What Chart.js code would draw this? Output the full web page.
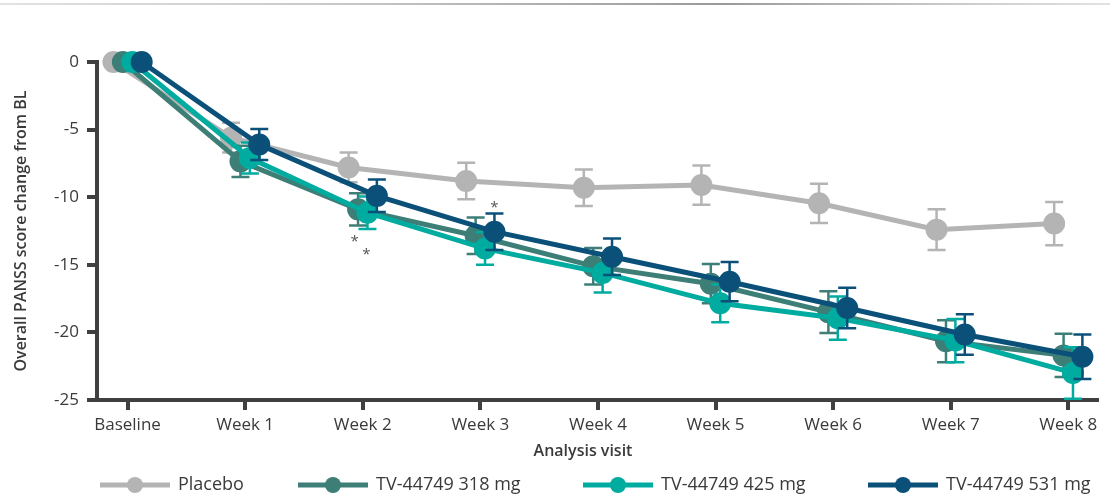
<!DOCTYPE html>
<html>
<head>
<meta charset="utf-8">
<script src="https://cdn.jsdelivr.net/npm/chart.js@4"></script>
<style>
  html, body { margin: 0; padding: 0; background: #fff; }
  #wrap { position: relative; width: 1110px; height: 495px; }
  #topline { position: absolute; left: 0; top: 3px; width: 1110px; height: 2px;
    background: linear-gradient(to right, #e2e2e2, #c8c8c8 30%, #9a9a9a 65%, #c8c8c8 85%, #e2e2e2); }
  canvas { position: absolute; left: 0; top: 0; }
</style>
</head>
<body>
<div id="wrap">
  <div id="topline"></div>
  <canvas id="chart" width="1110" height="495"></canvas>
</div>
<script>
// categories on the x axis
const visits = ['Baseline', 'Week 1', 'Week 2', 'Week 3', 'Week 4', 'Week 5', 'Week 6', 'Week 7', 'Week 8'];
const yTicks = [0, -5, -10, -15, -20, -25];

// mean change from baseline
const placebo = [0, -5.6, -7.8, -8.8, -9.3, -9.1, -10.45, -12.4, -11.95];
const dose318 = [0, -7.35, -10.9, -12.85, -15.1, -16.4, -18.5, -20.65, -21.7];
const dose425 = [0, -7.1, -11.15, -13.8, -15.6, -17.85, -18.95, -20.6, -23.0];
const dose531 = [0, -6.1, -9.9, -12.55, -14.4, -16.25, -18.2, -20.15, -21.8];

// standard errors (half height of the bars)
const placeboErr = [0, 1.1, 1.1, 1.35, 1.35, 1.45, 1.45, 1.5, 1.6];
const dose318Err = [0, 1.15, 1.2, 1.35, 1.35, 1.45, 1.55, 1.55, 1.6];
const dose425Err = [0, 1.15, 1.2, 1.2, 1.45, 1.4, 1.6, 1.6, 1.9];
const dose531Err = [0, 1.15, 1.2, 1.35, 1.35, 1.45, 1.5, 1.5, 1.65];

// significance markers: [visit position, y value]
const stars = [[1.93, -13.05], [2.03, -14.0], [3.12, -10.55]];

const seriesNames = ['Placebo', 'TV-44749 318 mg', 'TV-44749 425 mg', 'TV-44749 531 mg'];

const axisColor = '#404040';
const textColor = '#3a3a3a';
const font = 'Open Sans';

function pts(vals, shift) {
  return vals.map((v, i) => ({ x: i + shift, y: v }));
}

function makeSet(label, vals, err, color, shift, order) {
  return {
    label: label,
    data: pts(vals, shift),
    err: err,
    borderColor: color,
    backgroundColor: color,
    pointBackgroundColor: color,
    pointBorderColor: color,
    borderWidth: 5,
    pointRadius: 8.5,
    pointHoverRadius: 8.5,
    tension: 0,
    clip: false,
    order: order
  };
}

const errorBars = {
  id: 'errorBars',
  afterDatasetDraw(chart, args) {
    const ds = chart.data.datasets[args.index];
    const meta = args.meta;
    const y = chart.scales.y;
    const ctx = chart.ctx;
    ctx.save();
    ctx.strokeStyle = ds.borderColor;
    ctx.lineWidth = 2.5;
    meta.data.forEach((p, i) => {
      const e = ds.err[i];
      if (!e) return;
      const v = ds.data[i].y;
      const top = y.getPixelForValue(v + e);
      const bot = y.getPixelForValue(v - e);
      ctx.beginPath();
      ctx.moveTo(p.x, top); ctx.lineTo(p.x, bot);
      ctx.moveTo(p.x - 9, top); ctx.lineTo(p.x + 9, top);
      ctx.moveTo(p.x - 9, bot); ctx.lineTo(p.x + 9, bot);
      ctx.stroke();
    });
    ctx.restore();
  }
};

const extras = {
  id: 'extras',
  afterDraw(chart) {
    const ctx = chart.ctx;
    const xs = chart.scales.x, ys = chart.scales.y;
    ctx.save();
    // asterisks
    ctx.fillStyle = '#555';
    ctx.font = '15px "' + font + '"';
    ctx.textAlign = 'center';
    ctx.textBaseline = 'middle';
    stars.forEach(s => ctx.fillText('*', xs.getPixelForValue(s[0]), ys.getPixelForValue(s[1]) + 3));

    // x axis title
    ctx.fillStyle = textColor;
    ctx.font = '600 16px "' + font + '"';
    ctx.fillText('Analysis visit', 583, 451);

    // legend
    const starts = [100, 298, 583, 868];
    ctx.font = '18px "' + font + '"';
    ctx.textAlign = 'left';
    chart.data.datasets.forEach((ds, i) => {
      const x0 = starts[i], yy = 485;
      ctx.strokeStyle = ds.borderColor;
      ctx.fillStyle = ds.borderColor;
      ctx.lineWidth = 5;
      ctx.beginPath();
      ctx.moveTo(x0, yy); ctx.lineTo(x0 + 70, yy);
      ctx.stroke();
      ctx.beginPath();
      ctx.arc(x0 + 35, yy, 8, 0, Math.PI * 2);
      ctx.fill();
      ctx.fillStyle = textColor;
      ctx.fillText(ds.label, x0 + 78, yy);
    });
    ctx.restore();
  }
};

new Chart(document.getElementById('chart'), {
  type: 'line',
  data: {
    datasets: [
      makeSet(seriesNames[0], placebo, placeboErr, '#b4b4b4', -0.12, 4),
      makeSet(seriesNames[1], dose318, dose318Err, '#3d7e77', -0.04, 3),
      makeSet(seriesNames[2], dose425, dose425Err, '#00aba0', 0.04, 2),
      makeSet(seriesNames[3], dose531, dose531Err, '#0b5079', 0.12, 1)
    ]
  },
  options: {
    responsive: false,
    animation: false,
    events: [],
    layout: { padding: { left: 0, right: 7, top: 62, bottom: 0 } },
    plugins: { legend: { display: false }, tooltip: { enabled: false } },
    scales: {
      x: {
        type: 'linear',
        min: -0.26,
        max: 8.24,
        afterBuildTicks(scale) {
          scale.ticks = visits.map((_, i) => ({ value: i }));
        },
        afterFit(scale) { scale.height = 95; },
        ticks: {
          callback: v => visits[v],
          color: textColor,
          font: { family: font, size: 17 },
          padding: 5,
          maxRotation: 0,
          autoSkip: false
        },
        grid: { drawOnChartArea: false, color: axisColor, lineWidth: 4, tickLength: 10 },
        border: { color: axisColor, width: 4 }
      },
      y: {
        min: -25,
        max: 0,
        afterBuildTicks(scale) {
          scale.ticks = yTicks.map(v => ({ value: v }));
        },
        afterFit(scale) { scale.width = 97; },
        ticks: {
          color: textColor,
          font: { family: font, size: 17 },
          padding: 8
        },
        grid: { drawOnChartArea: false, color: axisColor, lineWidth: 4, tickLength: 10 },
        border: { color: axisColor, width: 4 },
        title: {
          display: true,
          text: 'Overall PANSS score change from BL',
          color: textColor,
          font: { family: font, size: 16, weight: '600' },
          padding: { top: 12, bottom: 0 }
        }
      }
    }
  },
  plugins: [errorBars, extras]
});
</script>
</body>
</html>
